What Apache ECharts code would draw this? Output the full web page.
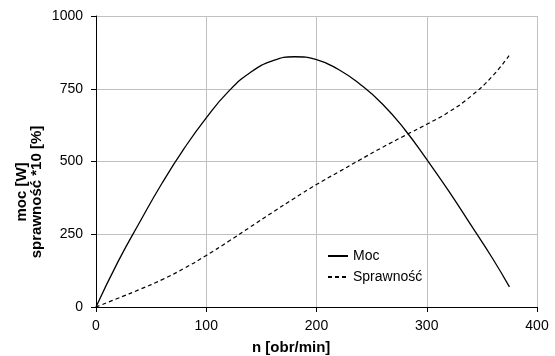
<!DOCTYPE html>
<html>
<head>
<meta charset="utf-8">
<title>Moc i sprawność</title>
<script src="https://cdn.jsdelivr.net/npm/echarts@6/dist/echarts.min.js"></script>
</head>
<body style="margin:0;padding:0;background:#fff;">
<div id="main" style="width:555px;height:356px;"></div>
<script type="text/javascript">
// dane
var obroty = [0, 20, 40, 60, 80, 100, 120, 140, 160, 180, 200, 220, 240, 260, 280, 300, 320, 340, 360, 375];
var moc = [0, 156, 294, 426, 545, 650, 740, 806, 846, 860, 850, 816, 764, 697, 610, 507, 398, 282, 165, 69];
var sprawnosc = [0, 30, 61, 94, 133, 177, 225, 275, 325, 374, 421, 464, 507, 549, 589, 628, 670, 724, 795, 866];
var xTicks = [0, 100, 200, 300, 400];
var yTicks = [0, 250, 500, 750, 1000];

function pary(xs, ys) {
    var out = [];
    for (var i = 0; i < xs.length; i++) {
        out.push([xs[i], ys[i]]);
    }
    return out;
}

var font = '"Liberation Sans", Arial, sans-serif';
var myChart = echarts.init(document.getElementById('main'));

var option = {
    backgroundColor: '#fff',
    animation: false,
    grid: { left: 96, right: 18, top: 16, bottom: 49, containLabel: false },
    legend: {
        orient: 'vertical',
        left: 322,
        top: 244,
        itemWidth: 20,
        itemHeight: 14,
        itemGap: 7,
        itemStyle: { opacity: 0 },
        textStyle: { fontFamily: font, fontSize: 14, color: '#000' },
        data: ['Moc', 'Sprawność']
    },
    xAxis: {
        type: 'value',
        min: xTicks[0],
        max: xTicks[xTicks.length - 1],
        interval: xTicks[1] - xTicks[0],
        axisLine: { lineStyle: { color: '#000', width: 1 } },
        axisTick: { show: true, length: 5, lineStyle: { color: '#000' } },
        axisLabel: { margin: 12, fontFamily: font, fontSize: 14, color: '#000',
            formatter: function (v) { return String(v); } },
        splitLine: { show: true, lineStyle: { color: '#c0c0c0', width: 1 } }
    },
    yAxis: {
        type: 'value',
        min: yTicks[0],
        max: yTicks[yTicks.length - 1],
        interval: yTicks[1] - yTicks[0],
        axisLine: { show: true, lineStyle: { color: '#000', width: 1 } },
        axisTick: { show: true, length: 5, lineStyle: { color: '#000' } },
        axisLabel: { margin: 13, fontFamily: font, fontSize: 14, color: '#000',
            formatter: function (v) { return String(v); } },
        splitLine: { show: true, lineStyle: { color: '#c0c0c0', width: 1 } }
    },
    graphic: [
        {
            type: 'text',
            left: 252,
            top: 340,
            style: {
                text: 'n [obr/min]',
                font: 'bold 15px ' + font,
                fill: '#000'
            }
        },
        {
            type: 'text',
            x: 29,
            y: 192,
            rotation: Math.PI / 2,
            style: {
                text: 'moc [W]\nsprawność *10 [%]',
                font: 'bold 15px ' + font,
                fill: '#000',
                align: 'center',
                verticalAlign: 'middle',
                lineHeight: 15
            }
        }
    ],
    series: [
        {
            name: 'Moc',
            type: 'line',
            data: pary(obroty, moc),
            smooth: 0.5,
            symbol: 'none',
            lineStyle: { color: '#000', width: 1.3, type: 'solid' },
            itemStyle: { color: '#000' }
        },
        {
            name: 'Sprawność',
            type: 'line',
            data: pary(obroty, sprawnosc),
            smooth: 0.5,
            symbol: 'none',
            lineStyle: { color: '#000', width: 1.2, type: [4, 3] },
            itemStyle: { color: '#000' }
        }
    ]
};
myChart.setOption(option);
</script>
</body>
</html>
